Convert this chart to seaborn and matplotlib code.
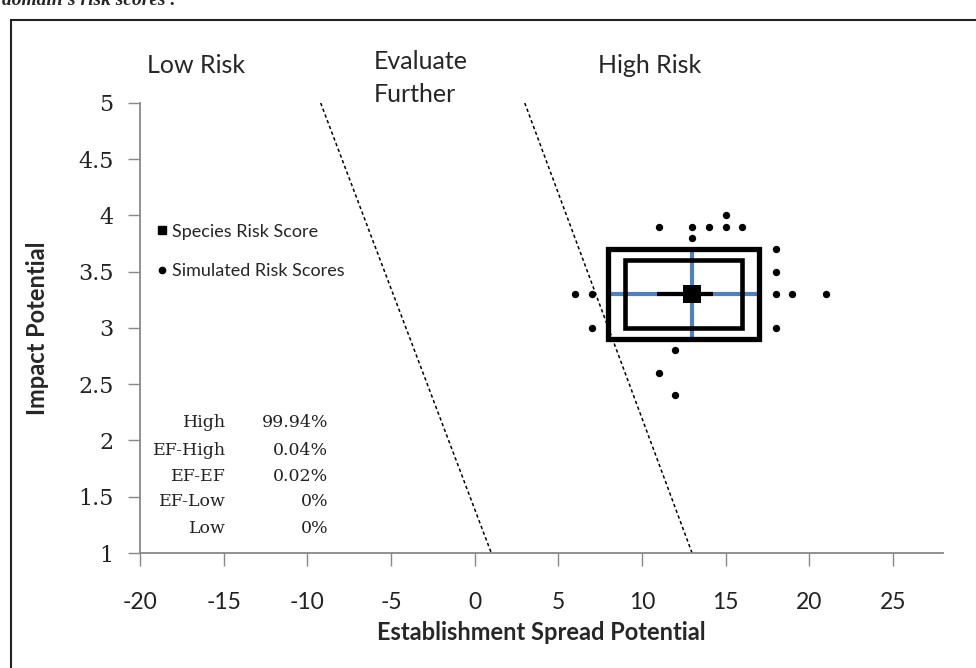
import matplotlib
matplotlib.use("Agg")
import matplotlib.pyplot as plt
from matplotlib.patches import Rectangle
from matplotlib.lines import Line2D
import seaborn as sns
import pandas as pd

# --- data ---
sim_x = [11, 13, 14, 15, 15, 16, 13, 18, 18, 6, 7, 18, 19, 21, 7, 18, 12, 11, 12]
sim_y = [3.9, 3.9, 3.9, 3.9, 4.0, 3.9, 3.8, 3.7, 3.5, 3.3, 3.3, 3.3, 3.3, 3.3, 3.0, 3.0, 2.8, 2.6, 2.4]

species_x = [13]
species_y = [3.3]
species_err_left = 2.1
species_err_right = 1.25

outer_box = (8, 2.9, 17, 3.7)   # x0, y0, x1, y1
inner_box = (9, 3.0, 16, 3.6)

# boundary lines between risk zones
line1_x = [-9.2, 1.0]
line2_x = [3.0, 13.0]
line_y = [5, 1]

zone_labels = ["Low Risk", "Evaluate\nFurther", "High Risk"]
zone_label_x = [-16.65, -6.05, 7.4]

outcome_names = ["High", "EF-High", "EF-EF", "EF-Low", "Low"]
outcome_pct = ["99.94%", "0.04%", "0.02%", "0%", "0%"]

x_ticks = [-20, -15, -10, -5, 0, 5, 10, 15, 20, 25]
y_ticks = [1, 1.5, 2, 2.5, 3, 3.5, 4, 4.5, 5]
y_tick_labels = ["1", "1.5", "2", "2.5", "3", "3.5", "4", "4.5", "5"]

sns.set_style("white")
plt.rcParams['font.family'] = ['Lato', 'DejaVu Sans']

fig = plt.figure(figsize=(9.76, 6.68), dpi=100)
ax = fig.add_axes([140 / 976, 115 / 668, 803 / 976, 450 / 668])

blue = "#4f81bd"

# crosshair through the species score (blue)
ax.plot([outer_box[0], outer_box[2]], [species_y[0]] * 2, color=blue, lw=3.0, zorder=2, solid_capstyle="butt")
ax.plot([species_x[0]] * 2, [outer_box[1], outer_box[3]], color=blue, lw=3.0, zorder=2, solid_capstyle="butt")

# boxes
for b, lw in [(outer_box, 3.8), (inner_box, 3.3)]:
    ax.add_patch(Rectangle((b[0], b[1]), b[2] - b[0], b[3] - b[1], fill=False,
                           edgecolor="black", lw=lw, zorder=3, joinstyle="miter"))

# black whisker
ax.plot([species_x[0] - species_err_left, species_x[0] + species_err_right], [species_y[0]] * 2,
        color="black", lw=3.0, zorder=4, solid_capstyle="butt")

# dashed zone boundaries
lines_df = pd.DataFrame({"x": line1_x + line2_x, "y": line_y + line_y,
                         "g": ["a", "a", "b", "b"]})
sns.lineplot(data=lines_df, x="x", y="y", units="g", estimator=None, sort=False,
             color="black", lw=1.1, dashes=False, ax=ax, zorder=2)
for l in ax.lines[-2:]:
    l.set_linestyle((0, (2.2, 1.8)))

sim_df = pd.DataFrame({"x": sim_x, "y": sim_y})
sns.scatterplot(data=sim_df, x="x", y="y", s=28, color="black", edgecolor="black",
                linewidth=0, marker="o", ax=ax, zorder=5)
sp_df = pd.DataFrame({"x": species_x, "y": species_y})
sns.scatterplot(data=sp_df, x="x", y="y", s=170, color="black", marker="s",
                linewidth=0, ax=ax, zorder=6)

ax.set_xlim(-20, 28)
ax.set_ylim(1, 5)
ax.set_xticks(x_ticks)
ax.set_xticklabels([str(t) for t in x_ticks], fontsize=16.5, color="#222222")
ax.set_yticks(y_ticks)
ax.set_yticklabels(y_tick_labels, fontsize=16, family="DejaVu Serif", color="#222222")
ax.tick_params(axis="x", direction="out", length=9.4, width=1, color="#888888", pad=19, bottom=True)
ax.tick_params(axis="y", direction="out", length=8.6, width=1, color="#888888", pad=10.5, left=True)

for s in ["top", "right"]:
    ax.spines[s].set_visible(False)
for s in ["left", "bottom"]:
    ax.spines[s].set_color("#888888")
    ax.spines[s].set_linewidth(1.3)

ax.set_xlabel("Establishment Spread Potential", fontsize=17, fontweight="bold")
ax.set_ylabel("Impact Potential", fontsize=17, fontweight="bold")
ax.xaxis.set_label_coords(0.5, -0.15)
ax.yaxis.set_label_coords(-0.113, 0.5)

# zone labels above plot
ax.text(zone_label_x[0], 5.33, zone_labels[0], fontsize=18, ha="center", va="center", clip_on=False)
ax.text(zone_label_x[1], 5.22, zone_labels[1], fontsize=18, ha="left", va="center",
        clip_on=False, linespacing=1.5)
ax.text(zone_label_x[2], 5.33, zone_labels[2], fontsize=18, ha="left", va="center", clip_on=False)

# outcome table
row_y = [2.16, 1.91, 1.68, 1.46, 1.22]
for name, pct, yy in zip(outcome_names, outcome_pct, row_y):
    ax.text(-14.85, yy, name, fontsize=12.5, family="DejaVu Serif", ha="right", va="center", color="#222222")
    ax.text(-8.75, yy, pct, fontsize=12.5, family="DejaVu Serif", ha="right", va="center", color="#222222")

# legend
handles = [Line2D([], [], marker="s", ls="none", color="black", markersize=6),
           Line2D([], [], marker="o", ls="none", color="black", markersize=4.5)]
ax.legend(handles, ["Species Risk Score", "Simulated Risk Scores"], loc="upper left",
          bbox_to_anchor=(0.0, 0.76), frameon=False, fontsize=13, handletextpad=0.1,
          handlelength=1.0, labelspacing=1.3, borderaxespad=0.3)

# outer frame of the figure and cut page text
fig.patches.append(Rectangle((11 / 976, -0.05), 1.2, 1 - 20 / 668 + 0.05, transform=fig.transFigure,
                             fill=False, edgecolor="#222222", lw=1.5))
fig.text(0.002, 0.999, "domain's risk scores .", fontsize=14, fontstyle="italic", fontweight="bold",
         family="Liberation Serif", va="center", ha="left")

fig.savefig("out.png", dpi=100)
